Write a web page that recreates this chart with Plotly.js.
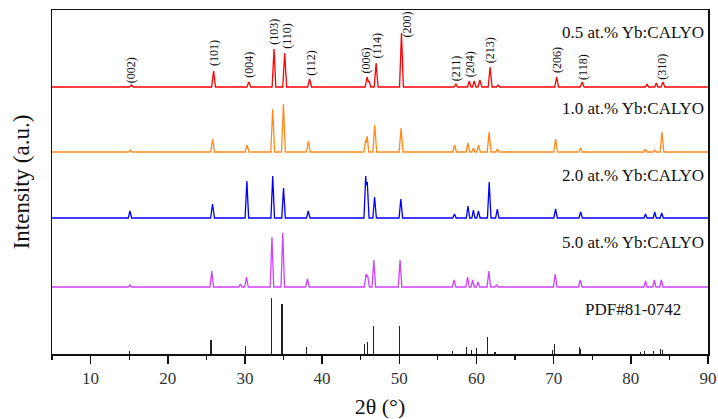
<!DOCTYPE html>
<html>
<head>
<meta charset="utf-8">
<script src="https://cdn.plot.ly/plotly-3.0.1.min.js"></script>
<style>html,body{margin:0;padding:0;background:#fff;}#chart{width:718px;height:419px;}</style>
</head>
<body>
<div id="chart"></div>
<script>
// ---- data (2θ in degrees, intensity in arbitrary units above each pattern's baseline) ----
const seriesNames = ["0.5 at.% Yb:CALYO", "1.0 at.% Yb:CALYO", "2.0 at.% Yb:CALYO", "5.0 at.% Yb:CALYO"];
const offsets = [267, 202, 136, 67];

const x05 = [5, 15.05,15.3,15.55, 25.69,25.94,26.19, 30.25,30.5,30.75, 33.52,33.77,34.0, 34.9,35.15,35.4, 38.13,38.38,38.63,
  45.58,45.83,46.0,46.1,46.3, 46.75,47.0,47.25, 50.03,50.28,50.53, 57.1,57.34,57.55, 58.85,59.06,59.3, 59.5,59.7,59.95, 60.2,60.44,60.7,
  61.52,61.77,62.02, 62.6,62.8,63.0, 70.14,70.39,70.64, 73.45,73.7,73.95, 81.9,82.1,82.3, 83.1,83.3,83.5, 83.9,84.16,84.4, 90];
const y05 = [0, 0,2,0, 0,16,0, 0,5,0, 0,38,0, 0,34,0, 0,8,0,
  0,10,5,6,0, 0,24,0, 0,54,0, 0,3,0, 0,6,0, 0,6,0, 0,7,0,
  0,20,0, 0,2,0, 0,10,0, 0,5,0, 0,3,0, 0,4,0, 0,5,0, 0];

const x10 = [5, 14.95,15.17,15.4, 25.56,25.81,26.06, 30.03,30.28,30.53, 33.35,33.6,33.85, 34.74,34.99,35.24, 37.97,38.22,38.47,
  45.4,45.65,45.72,45.84,46.05, 46.57,46.82,47.07, 49.98,50.23,50.48, 56.93,57.16,57.4, 58.66,58.89,59.12, 59.4,59.61,59.82, 60.03,60.26,60.5,
  61.39,61.64,61.89, 62.5,62.71,62.92, 70.0,70.26,70.5, 73.25,73.49,73.73, 81.7,81.89,82.1, 82.9,83.09,83.3, 83.8,84.03,84.28, 90];
const y10 = [0, 0,2,0, 0,13,0, 0,7,0, 0,43,0, 0,48,0, 0,11,0,
  0,12,9,16,0, 0,27,0, 0,24,0, 0,7,0, 0,9,0, 0,4,0, 0,7,0,
  0,20,0, 0,3,0, 0,13,0, 0,4,0, 0,3,0, 0,2,0, 0,20,0, 0];

const x20 = [5, 14.88,15.1,15.32, 25.55,25.8,26.05, 30.02,30.25,30.48, 33.37,33.6,33.83, 34.77,35.0,35.23, 37.97,38.2,38.43,
  45.42,45.65,45.73,45.85,46.08, 46.57,46.8,47.03, 49.97,50.2,50.43, 56.93,57.15,57.37, 58.68,58.9,59.12, 59.4,59.6,59.8, 60.04,60.25,60.47,
  61.42,61.65,61.88, 62.48,62.7,62.92, 70.02,70.25,70.48, 73.28,73.5,73.72, 81.7,81.9,82.1, 82.9,83.1,83.3, 83.8,84.0,84.22, 90];
const y20 = [0, 0,7,0, 0,14,0, 0,37,0, 0,42,0, 0,30,0, 0,7,0,
  0,42,33,36,0, 0,21,0, 0,19,0, 0,4,0, 0,12,0, 0,8,0, 0,7,0,
  0,36,0, 0,9,0, 0,9,0, 0,6,0, 0,4,0, 0,6,0, 0,5,0, 0];

const x50 = [5, 14.88,15.1,15.32, 25.47,25.7,25.93, 29.2,29.4,29.6, 29.97,30.2,30.43, 33.27,33.5,33.73, 34.67,34.9,35.13, 37.87,38.1,38.33,
  45.47,45.7,45.8,45.9,46.12, 46.47,46.7,46.93, 49.87,50.1,50.33, 56.88,57.1,57.32, 58.63,58.85,59.07, 59.3,59.5,59.72, 59.98,60.2,60.42,
  61.37,61.6,61.83, 62.4,62.6,62.8, 69.97,70.2,70.43, 73.22,73.45,73.68, 81.7,81.9,82.1, 82.85,83.05,83.25, 83.75,83.95,84.17, 90];
const y50 = [0, 0,2,0, 0,16,0, 0,3,0, 0,10,0, 0,50,0, 0,54,0, 0,8,0,
  0,13,10,12,0, 0,27,0, 0,27,0, 0,7,0, 0,10,0, 0,7,0, 0,5,0,
  0,16,0, 0,2,0, 0,13,0, 0,7,0, 0,6,0, 0,7,0, 0,7,0, 0];

const pdfLabel = "PDF#81-0742";
const pdfPos = [15.0, 25.6, 30.1, 33.4, 34.8, 38.0, 45.55, 45.85, 46.6, 50.0, 56.9, 58.7, 59.4, 60.0, 61.4, 62.4,
  69.9, 70.15, 73.3, 73.5, 81.25, 81.8, 82.95, 83.8, 84.05];
const pdfInt = [3.5, 14, 8, 56, 50, 7, 10, 12, 28, 28, 3, 7, 4, 6, 17, 2, 4, 10, 7, 5, 2, 3, 3, 5, 4];

const hkl = ["(002)","(101)","(004)","(103)","(110)","(112)","(006)","(114)","(200)","(211)","(204)","(213)","(206)","(118)","(310)"];
const hklX = [15.26, 25.98, 30.5, 33.73, 35.41, 38.52, 45.75, 47.17, 51.05, 57.38, 59.19, 61.77, 70.43, 73.79, 84.0];
const hklY = [269, 286, 274, 307, 303, 276, 279, 294, 315, 271, 275, 289, 279, 272, 272];

const xTickVals = [10, 20, 30, 40, 50, 60, 70, 80, 90];
const xTickText = ["10", "20", "30", "40", "50", "60", "70", "80", "90"];

// ---- traces ----
const colors = ["#ff0000", "#ff8a1c", "#0000ff", "#d040ff"];
const xs = [x05, x10, x20, x50];
const ys = [y05, y10, y20, y50];
const traces = xs.map((xArr, i) => ({
  type: "scatter", mode: "lines", name: seriesNames[i],
  x: xArr, y: ys[i].map(v => v + offsets[i]),
  line: {color: colors[i], width: 1.3}, hoverinfo: "x+y"
}));
traces.push({
  type: "bar", name: pdfLabel, x: pdfPos, y: pdfInt, width: 0.14,
  marker: {color: "#222", line: {width: 0}}
});

const serif = "'Liberation Serif', 'Times New Roman', serif";
const labelYs = [322, 246, 179, 112];
const annotations = [];
hkl.forEach((t, i) => annotations.push({
  x: hklX[i], y: hklY[i], xref: "x", yref: "y", text: t, textangle: -90,
  showarrow: false, xanchor: "center", yanchor: "bottom",
  font: {family: serif, size: 12, color: "#111"}
}));
seriesNames.forEach((n, i) => annotations.push({
  x: 89.7, y: labelYs[i], xref: "x", yref: "y", text: n, showarrow: false,
  xanchor: "right", yanchor: "middle", font: {family: serif, size: 17, color: "#111"}
}));
annotations.push({
  x: 86.8, y: 45, xref: "x", yref: "y", text: pdfLabel, showarrow: false,
  xanchor: "right", yanchor: "middle", font: {family: serif, size: 17, color: "#111"}
});

const layout = {
  width: 718, height: 419,
  margin: {l: 52, r: 10, t: 10, b: 65},
  paper_bgcolor: "#fff", plot_bgcolor: "#fff",
  showlegend: false,
  bargap: 0,
  xaxis: {
    range: [5, 90], tickvals: xTickVals, ticktext: xTickText,
    ticks: "outside", ticklen: 8, tickwidth: 1.5, tickcolor: "#111",
    minor: {dtick: 5, tick0: 5, ticks: "outside", ticklen: 4, tickwidth: 1.2, tickcolor: "#111"},
    showline: true, linecolor: "#111", linewidth: 1.5, mirror: true,
    showgrid: false, zeroline: false,
    tickfont: {family: serif, size: 17, color: "#333"},
    title: {text: "2θ (°)", font: {family: serif, size: 22, color: "#111"}, standoff: 11}
  },
  yaxis: {
    range: [0, 344], showticklabels: false, ticks: "",
    showline: true, linecolor: "#111", linewidth: 1.5, mirror: true,
    showgrid: false, zeroline: false,
    title: {text: "Intensity (a.u.)", font: {family: serif, size: 23, color: "#111"}, standoff: 14}
  },
  annotations: annotations
};

Plotly.newPlot("chart", traces, layout, {displayModeBar: false, staticPlot: true});
</script>
</body>
</html>
